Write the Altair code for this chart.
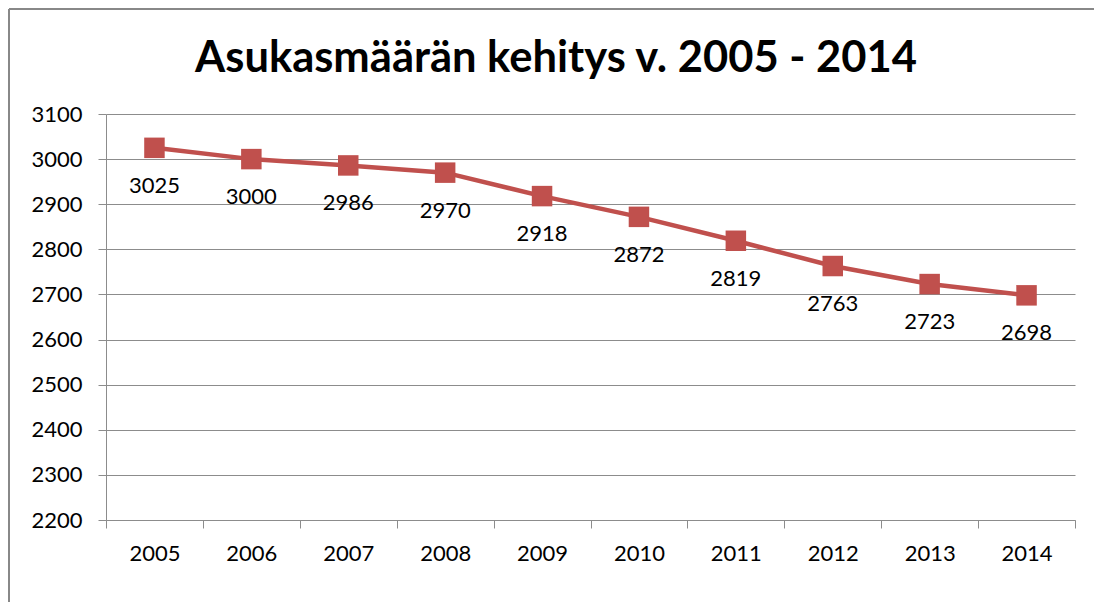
import altair as alt
import pandas as pd

years = [2005, 2006, 2007, 2008, 2009, 2010, 2011, 2012, 2013, 2014]
population = [3025, 3000, 2986, 2970, 2918, 2872, 2819, 2763, 2723, 2698]
y_ticks = [2200, 2300, 2400, 2500, 2600, 2700, 2800, 2900, 3000, 3100]
title_text = "Asukasmäärän kehitys v. 2005 - 2014"

df = pd.DataFrame({"year": years, "pop": population})

FONT = "Lato"
RED = "#C0504D"
GRID = "#8C8C8C"
FS = 22

x_vals = []
for y in years:
    x_vals.append(y - 0.5)
    x_vals.append(y)
x_vals.append(years[-1] + 0.5)

x_enc = alt.X(
    "year:Q",
    scale=alt.Scale(domain=[years[0] - 0.5, years[-1] + 0.5], nice=False, zero=False),
    axis=alt.Axis(
        title=None,
        values=x_vals,
        labelExpr="datum.value % 1 === 0 ? toString(datum.value) : ''",
        tickOpacity={"condition": {"test": "datum.value % 1 === 0", "value": 0}, "value": 1},
        grid=False,
        labelFlush=False,
        labelOverlap=False,
        tickSize=8,
        labelPadding=15,
        domainColor=GRID,
        tickColor=GRID,
        labelFont=FONT,
        labelFontSize=FS,
        labelColor="#000000",
    ),
)
y_enc = alt.Y(
    "pop:Q",
    scale=alt.Scale(domain=[2200, 3100], nice=False, zero=False),
    axis=alt.Axis(
        title=None,
        values=y_ticks,
        format="d",
        grid=True,
        gridColor=GRID,
        gridWidth=1,
        tickSize=8,
        labelPadding=16,
        domainColor=GRID,
        tickColor=GRID,
        labelFont=FONT,
        labelFontSize=FS,
        labelColor="#000000",
    ),
)

base = alt.Chart(df)

line = base.mark_line(color=RED, strokeWidth=4.5).encode(x=x_enc, y=y_enc)
points = base.mark_point(shape="square", filled=True, size=420, color=RED, opacity=1).encode(
    x="year:Q", y="pop:Q"
)
labels = base.mark_text(dy=38, font=FONT, fontSize=FS, color="#000000", baseline="middle").encode(
    x="year:Q", y="pop:Q", text="pop:Q"
)

border_left = base.mark_rule(color="#888888", strokeWidth=2).encode(
    x=alt.value(-97), y=alt.value(-105), y2=alt.value(600)
)
border_top = base.mark_rule(color="#888888", strokeWidth=2).encode(
    x=alt.value(-97), x2=alt.value(1100), y=alt.value(-105)
)
title_mark = alt.Chart(pd.DataFrame({"t": [title_text]})).mark_text(
    font=FONT, fontSize=43.5, fontWeight="bold", color="#000000", align="center", baseline="alphabetic"
).encode(x=alt.value(450), y=alt.value(-42), text="t:N")

chart = (
    alt.layer(border_left, border_top, line, points, labels, title_mark)
    .properties(
        width=969,
        height=406,
        autosize=alt.AutoSizeParams(type="none"),
        padding={"left": 98, "top": 106, "right": 19, "bottom": 82},
    )
    .configure_view(stroke=None)
)

chart.save("out.html", embed_options={"renderer": "svg", "actions": False})
